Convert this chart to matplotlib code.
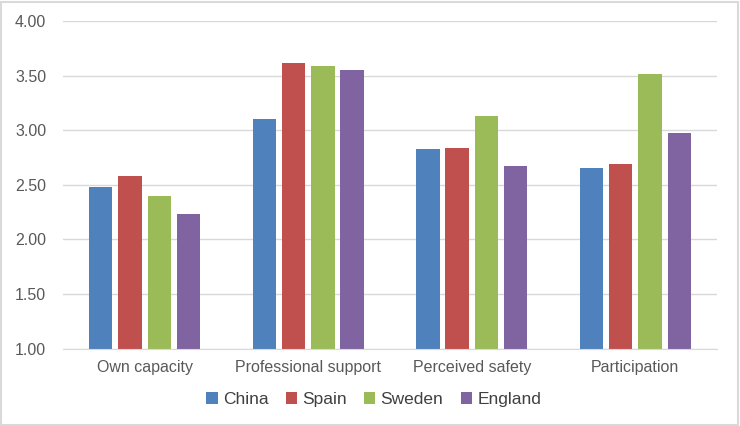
import numpy as np
import matplotlib
matplotlib.use('Agg')
import matplotlib.pyplot as plt
from matplotlib.patches import Rectangle

# Datos
categorias = ['Own capacity', 'Professional support', 'Perceived safety', 'Participation']
paises = ['China', 'Spain', 'Sweden', 'England']
china = [2.48, 3.10, 2.83, 2.65]
spain = [2.58, 3.61, 2.84, 2.69]
sweden = [2.40, 3.59, 3.13, 3.51]
england = [2.23, 3.55, 2.67, 2.97]
colores = ['#4F81BD', '#C0504D', '#9BBB59', '#8064A2']

plt.rcParams['font.family'] = ['Liberation Sans', 'DejaVu Sans']

fig = plt.figure(figsize=(7.4, 4.26), dpi=100)
ax = fig.add_axes([0.085, 0.1815, 0.884, 0.7695])

x = np.arange(len(categorias))
ancho = 0.143
paso = 0.179
series = [china, spain, sweden, england]
for i, (nombre, valores) in enumerate(zip(paises, series)):
    ax.bar(x + (i - 1.5) * paso, np.array(valores) - 1.0, ancho, bottom=1.0,
           color=colores[i], label=nombre, zorder=3)

ax.set_xlim(-0.5, len(categorias) - 0.5)
ax.set_ylim(1.0, 4.0)
ax.set_yticks(np.arange(1.0, 4.01, 0.5))
ax.set_yticklabels([f'{v:.2f}' for v in np.arange(1.0, 4.01, 0.5)])
ax.set_xticks(x)
ax.set_xticklabels(categorias)
ax.tick_params(axis='both', length=0, colors='#595959', labelsize=11.5)
ax.tick_params(axis='x', pad=8)
ax.tick_params(axis='y', pad=12)
ax.grid(axis='y', color='#D9D9D9', linewidth=1, zorder=0)
for lado in ['top', 'right', 'left']:
    ax.spines[lado].set_visible(False)
ax.spines['bottom'].set_color('#D9D9D9')
ax.spines['bottom'].set_zorder(4)

leg = fig.legend(loc='center', bbox_to_anchor=(0.505, 0.062), ncol=4, frameon=False,
                 fontsize=12.5, handlelength=0.65, handleheight=0.65,
                 handletextpad=0.3, columnspacing=1.0)
for t in leg.get_texts():
    t.set_color('#404040')

# Borde de la figura
fig.patches.append(Rectangle((0.002, 0.003), 0.995, 0.993, transform=fig.transFigure,
                             fill=False, edgecolor='#D9D9D9', linewidth=1.5))

fig.savefig('out.png', dpi=100)
